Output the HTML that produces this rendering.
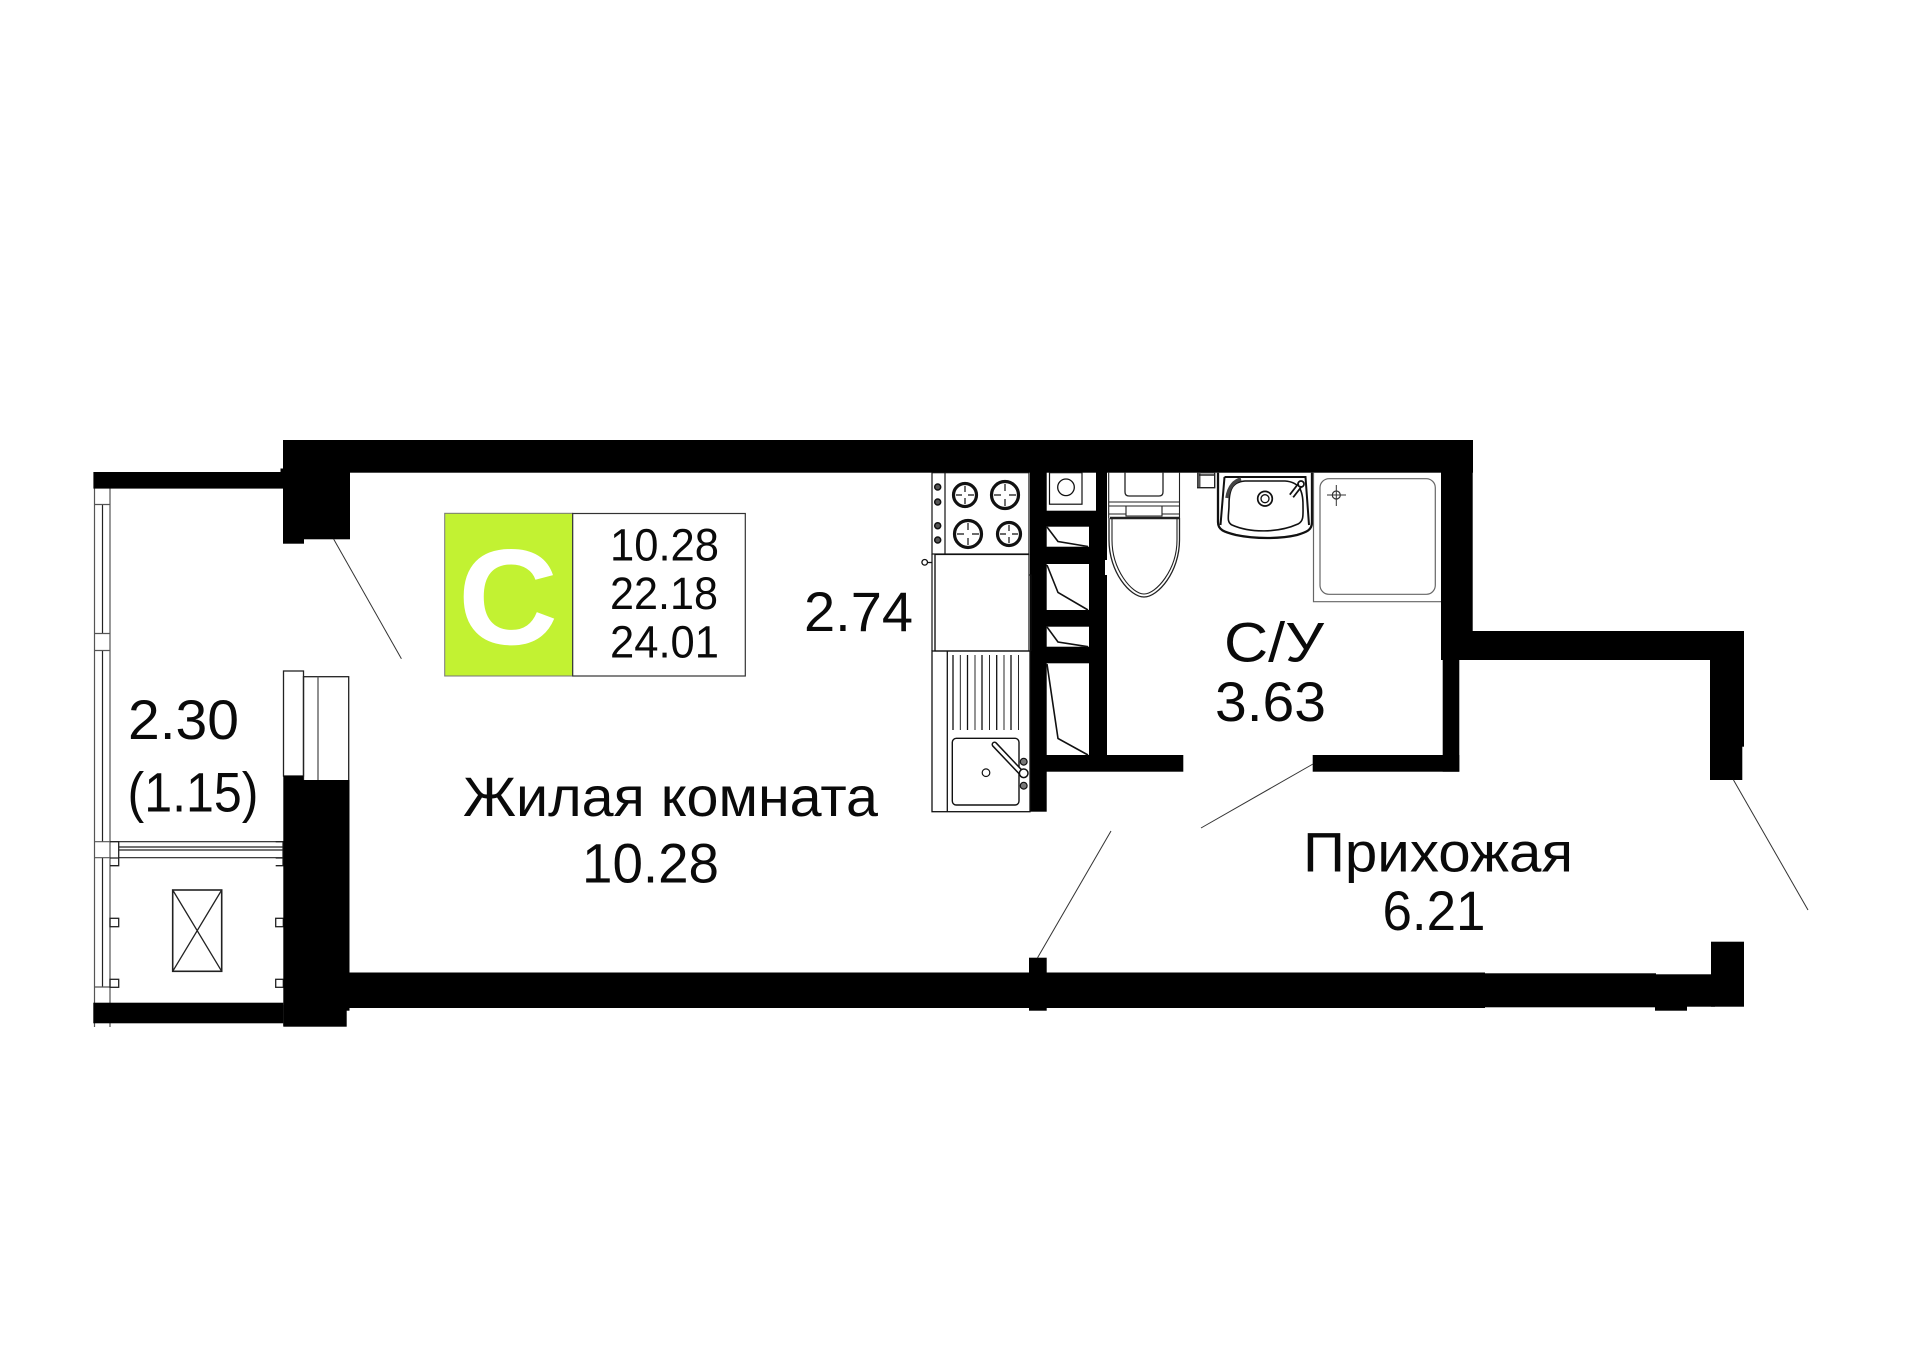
<!DOCTYPE html>
<html lang="ru"><head><meta charset="utf-8"><title>План квартиры</title>
<style>html,body{margin:0;padding:0;background:#fff}svg{display:block}
text{font-family:"Liberation Sans",sans-serif;fill:#0a0a0a}</style></head>
<body>
<svg xmlns="http://www.w3.org/2000/svg" width="1920" height="1357" viewBox="0 0 1920 1357">
<rect width="1920" height="1357" fill="#fff"/>
<!-- balcony glazing -->
<g fill="none" stroke="#555" stroke-width="1.2">
<path d="M94.5 488V1027M110 488V1027"/>
<path d="M102.5 504.5V633.5M102.5 650.5V841.5M102.5 857.5V987" stroke="#222"/>
<path d="M94 504.5H110M94 633.5H110M94 650.5H110M94 841.7H110M94 857.7H110M94 987H110"/>
</g>
<g fill="none" stroke="#222" stroke-width="1.3">
<path d="M118.7 841.7H283M118.7 847H283M118.7 850H283M118.7 857.7H283" stroke-width="1.2"/>
<path d="M110 841.7H118.7V865.7H110M275.7 841.7H283V865.7H275.7"/>
<path d="M110 858H118.7M275.7 858H283"/>
<rect x="110" y="918.3" width="8.7" height="8.4"/><rect x="110" y="979.3" width="8.7" height="8"/>
<rect x="275.7" y="918.3" width="7.6" height="8.4"/><rect x="275.7" y="979.3" width="7.6" height="8"/>
<rect x="172.7" y="890" width="49" height="81.3" stroke-width="1.6"/>
<path d="M172.7 890L221.7 971.3M221.7 890L172.7 971.3"/>
<rect x="283.5" y="671" width="20" height="105"/>
<rect x="303.5" y="676.7" width="45.2" height="104"/>
<path d="M318 676.7V780" stroke="#555"/>
</g>
<!-- walls -->
<g fill="#000">
<rect x="93.4" y="472" width="190" height="16.6"/>
<rect x="280.5" y="468.5" width="4" height="5"/>
<rect x="283" y="440" width="67" height="99.3"/>
<rect x="283" y="530" width="21" height="13.7"/>
<rect x="283" y="440" width="1190" height="32.7"/>
<rect x="1441" y="440" width="31.7" height="220"/>
<rect x="1441" y="631" width="303" height="29"/>
<rect x="1710" y="631" width="34" height="115.7"/>
<rect x="1710" y="740" width="32.3" height="40"/>
<rect x="1442.7" y="655" width="16.6" height="116.7"/>
<rect x="1312.7" y="755" width="146.6" height="16.7"/>
<rect x="283.3" y="775.7" width="20" height="250"/>
<rect x="303" y="780" width="46.5" height="230.7"/>
<rect x="283.3" y="1005" width="63.4" height="21.7"/>
<rect x="93.3" y="1002.7" width="190" height="20.6"/>
<rect x="349" y="972.5" width="1136" height="35.5"/>
<rect x="1484" y="973.3" width="172" height="34"/>
<rect x="1655" y="974.3" width="60" height="32.4"/>
<rect x="1655" y="1005" width="32" height="5.7"/>
<rect x="1711" y="941.7" width="33" height="65"/>
<rect x="1029" y="957.7" width="17.7" height="53"/>
<!-- kitchen/bath partition -->
<rect x="1030" y="470" width="16.7" height="341.7"/>
<rect x="1096" y="470" width="11" height="300"/>
<rect x="1089" y="526" width="18" height="240"/>
<rect x="1046" y="510.7" width="50" height="16"/>
<rect x="1046" y="546.7" width="50" height="17.3"/>
<rect x="1046" y="610" width="50" height="16.7"/>
<rect x="1046" y="646.7" width="50" height="16.6"/>
<rect x="1046" y="755" width="137.3" height="16.7"/>
</g>
<!-- closet hatches -->
<g fill="none" stroke="#111" stroke-width="1.6">
<path d="M1047 527L1058 541.5L1088 546.5"/>
<path d="M1047 565L1058 592.5L1088 610"/>
<path d="M1047 627L1058 642L1088 646.7"/>
<path d="M1047 664L1058 738.5L1088 755"/>
<rect x="1049.5" y="472.7" width="32.5" height="31.5" stroke-width="1.2"/>
<circle cx="1066" cy="487.3" r="8.3" stroke-width="1.3"/>
</g>
<!-- stove -->
<g fill="none" stroke="#111">
<rect x="932" y="472.7" width="97" height="81.3" stroke-width="1.2"/>
<path d="M945 472.7V554" stroke-width="1.2"/>
<g stroke-width="3.2"><circle cx="965" cy="495" r="11.5"/><circle cx="1005" cy="495" r="13.5"/><circle cx="968" cy="534" r="13.5"/><circle cx="1009" cy="534" r="11.5"/></g>
<path d="M965 486V492M965 498V504M956 495H962M968 495H974M1005 484V491M1005 499V506M994 495H1001M1009 495H1016M968 523V530M968 538V545M957 534H964M972 534H979M1009 525V531M1009 537V543M1000 534H1006M1012 534H1018" stroke-width="1.2"/>
<g fill="#555" stroke-width="1.5"><circle cx="937.7" cy="487" r="3"/><circle cx="937.7" cy="502" r="3"/><circle cx="937.7" cy="525.7" r="3"/><circle cx="937.7" cy="540" r="3"/></g>
<circle cx="924.7" cy="562.3" r="2.8" stroke-width="1.3"/>
<path d="M927.5 562.5H932" stroke-width="1.3"/>
<!-- counter -->
<path d="M932 554V651" stroke-width="1.2"/><path d="M935 554V651" stroke-width="1.2"/>
<rect x="935" y="554.5" width="94" height="96.5" stroke-width="1.2"/>
<path d="M1029 575H1031V651" stroke-width="1"/>
<!-- sink unit -->
<rect x="932" y="651" width="98" height="160.7" stroke-width="1.3"/>
<path d="M947.3 651V811.7" stroke-width="1.3"/>
<path d="M953 655V730M967.5 655V730M982 655V730M996.7 655V730M1011 655V730" stroke-width="1.3"/>
<path d="M960.3 655V730M975 655V730M989.5 655V730M1004 655V730M1018.5 655V730" stroke-width=".9"/>
<rect x="952.3" y="738.3" width="66.7" height="66.7" rx="4" stroke-width="1.4"/>
<circle cx="986" cy="772.7" r="3.8" stroke-width="1.2"/>
<path d="M994.5 744.5L1021.5 773" stroke-width="6" stroke-linecap="round"/>
<path d="M994.5 744.5L1021.5 773" stroke="#fff" stroke-width="3" stroke-linecap="round"/>
<circle cx="1023.7" cy="773.3" r="4.3" fill="#fff" stroke-width="1.5"/>
<circle cx="1023.7" cy="761.7" r="3.4" fill="#777" stroke-width="1.2"/>
<circle cx="1023.7" cy="785.7" r="3.4" fill="#777" stroke-width="1.2"/>
</g>
<!-- toilet -->
<g fill="none" stroke="#222" stroke-width="1.1">
<path d="M1108.7 472V518M1179.5 472V518"/>
<path d="M1125 472V492Q1125 496 1129 496H1159Q1163 496 1163 492V472" stroke-width="1.3"/>
<path d="M1108.7 502H1179.5M1108.7 506H1179.5"/>
<path d="M1126 506V516H1162V506M1108.7 514H1126M1162 514H1179.5"/>
<path d="M1110 518H1179" stroke-width="2.4"/>
<path d="M1109 518V540C1109 572 1130 597 1144 597C1158 597 1179.5 572 1179.5 540V518" stroke-width="1.3"/>
<path d="M1112 519V540C1112 570 1132 594 1144 594C1156 594 1177 570 1177 540V519" stroke-width="1.1"/>
</g>
<rect x="1105" y="560" width="3" height="15" fill="#fff"/>
<!-- small box -->
<g fill="none" stroke="#222" stroke-width="1.4"><rect x="1197.7" y="472.7" width="17" height="15" fill="#fff"/><path d="M1199 472.7V487" stroke-width="3" stroke="#555"/><path d="M1199 475H1215" stroke-width="1.5"/></g>
<!-- wash basin -->
<g fill="none" stroke="#111">
<path d="M1218 472.7V522C1218 530 1224 532 1236 535C1255 539 1280 539 1297 535C1307 532 1312 530 1312 522V472.7" stroke-width="2.3"/>
<path d="M1224.5 477H1305.5L1309 525" stroke-width="2"/>
<path d="M1224.5 477L1220.5 525" stroke-width="2"/>
<path d="M1229 505C1229 490 1232 482 1245 481H1285C1299 482 1303 490 1303 505C1303 515 1304 521 1298 524C1278 533 1250 533 1232 525C1226 522 1229 515 1229 505Z" stroke-width="1.6"/>
<path d="M1227 498C1229 485 1235 481 1241 479" stroke-width="3.6" stroke="#444"/>
<circle cx="1265" cy="498.7" r="7.3" stroke-width="1.7"/><circle cx="1265" cy="498.7" r="4" stroke-width="1.3"/>
<path d="M1291.5 496L1300 485" stroke-width="6"/><path d="M1291.5 496L1300 485" stroke="#fff" stroke-width="2.6"/>
<circle cx="1301" cy="484" r="3" stroke-width="1.7"/>
</g>
<!-- shower -->
<g fill="none" stroke="#666" stroke-width="1.2">
<path d="M1313.5 472.7V601.7H1441"/>
<rect x="1320" y="478.7" width="115.3" height="115.6" rx="9"/>
<circle cx="1336.3" cy="495" r="4" stroke="#333"/>
<path d="M1327 495H1346M1336.3 485V506" stroke="#333" stroke-width="1"/>
</g>
<!-- door lines -->
<g stroke="#333" stroke-width="1" fill="none">
<path d="M333.6 539L401.4 658.8"/>
<path d="M1037.4 958L1111 831"/>
<path d="M1313 764L1201 828"/>
<path d="M1733.5 780L1808 910"/>
</g>
<!-- badge -->
<rect x="444.7" y="513.3" width="128" height="162.7" fill="#c2f232" stroke="#777" stroke-width="1"/>
<rect x="572.7" y="513.5" width="172.6" height="162.5" fill="#fff" stroke="#333" stroke-width="1.2"/>
<text x="458" y="644" font-size="136" font-weight="700" textLength="100" lengthAdjust="spacingAndGlyphs" style="fill:#fff">C</text>
<g font-size="45">
<text x="610" y="560.7" textLength="109" lengthAdjust="spacingAndGlyphs">10.28</text>
<text x="610" y="609" textLength="108" lengthAdjust="spacingAndGlyphs">22.18</text>
<text x="610" y="657.3" textLength="109" lengthAdjust="spacingAndGlyphs">24.01</text>
</g>
<!-- labels -->
<g font-size="56">
<text x="804" y="631" textLength="109" lengthAdjust="spacingAndGlyphs">2.74</text>
<text x="128" y="739" textLength="111" lengthAdjust="spacingAndGlyphs">2.30</text>
<text x="127.5" y="811.5" textLength="131" lengthAdjust="spacingAndGlyphs">(1.15)</text>
<text x="463" y="816" textLength="415" lengthAdjust="spacingAndGlyphs">Жилая комната</text>
<text x="582" y="882.7" textLength="137" lengthAdjust="spacingAndGlyphs">10.28</text>
<text x="1224" y="661.7" textLength="100" lengthAdjust="spacingAndGlyphs">С/У</text>
<text x="1215" y="721" textLength="111" lengthAdjust="spacingAndGlyphs">3.63</text>
<text x="1303" y="871.7" textLength="270" lengthAdjust="spacingAndGlyphs">Прихожая</text>
<text x="1382.5" y="930" textLength="103" lengthAdjust="spacingAndGlyphs">6.21</text>
</g>
</svg>
</body></html>
